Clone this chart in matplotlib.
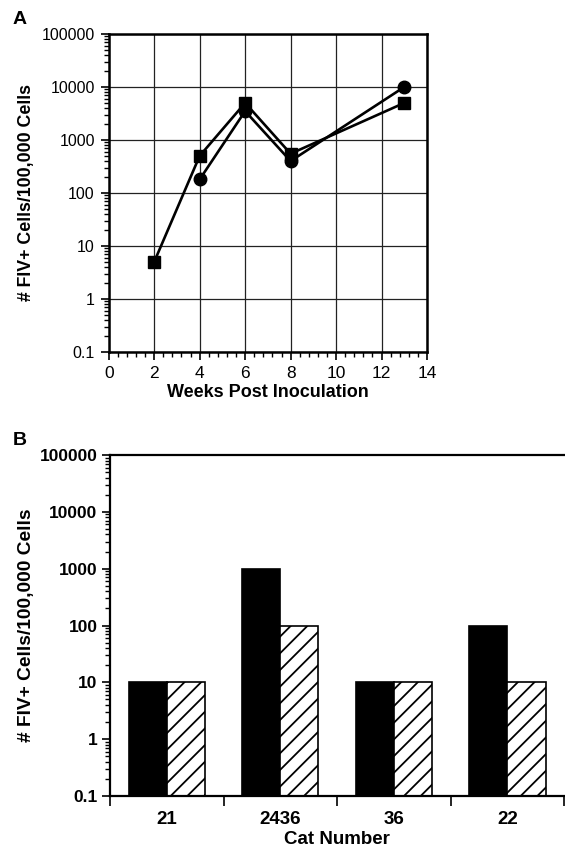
import matplotlib
matplotlib.use("Agg")
import matplotlib.pyplot as plt
from matplotlib.ticker import LogLocator, FixedLocator, MultipleLocator, NullFormatter, FixedFormatter
import numpy as np

plt.rcParams['font.family'] = ['Liberation Sans', 'DejaVu Sans']
plt.rcParams['hatch.linewidth'] = 1.3

# Panel A data
weeks_sq = [2, 4, 6, 8, 13]
vals_sq = [5, 500, 5000, 550, 5000]
weeks_ci = [4, 6, 8, 13]
vals_ci = [180, 3500, 400, 10000]

# Panel B data
cats = ['21', '2436', '36', '22']
vals_black = [10, 1000, 10, 100]
vals_hatch = [10, 100, 10, 10]

ytick_vals = [0.1, 1, 10, 100, 1000, 10000, 100000]
ytick_labels = ['0.1', '1', '10', '100', '1000', '10000', '100000']

fig = plt.figure(figsize=(5.65, 8.51), dpi=100)

# ---------- Panel A ----------
axA = fig.add_axes([0.1924, 0.5864, 0.5634, 0.3737])
axA.plot(weeks_sq, vals_sq, color='black', lw=1.9, marker='s', ms=9, zorder=3, clip_on=False)
axA.plot(weeks_ci, vals_ci, color='black', lw=1.9, marker='o', ms=9, zorder=3, clip_on=False)
axA.set_yscale('log')
axA.set_ylim(0.1, 100000)
axA.set_xlim(0, 14)
axA.set_xticks(range(0, 15, 2))
axA.xaxis.set_minor_locator(MultipleLocator(0.4))
axA.yaxis.set_major_locator(FixedLocator(ytick_vals))
axA.yaxis.set_major_formatter(FixedFormatter(ytick_labels))
axA.yaxis.set_minor_locator(LogLocator(base=10, subs=np.arange(2, 10), numticks=20))
axA.yaxis.set_minor_formatter(NullFormatter())
axA.grid(True, which='major', color='#222222', lw=0.9)
for s in axA.spines.values():
    s.set_linewidth(1.8)
axA.tick_params(which='major', direction='out', length=6, width=1.2, pad=4)
axA.tick_params(axis='y', which='major', labelsize=11.5)
axA.tick_params(axis='x', which='major', labelsize=12.5)
axA.tick_params(which='minor', direction='out', length=3.5, width=1.0)
axA.set_xlabel('Weeks Post Inoculation', fontsize=13, fontweight='bold', labelpad=2)
axA.set_ylabel('# FIV+ Cells/100,000 Cells', fontsize=12.8, fontweight='bold', labelpad=5)
fig.text(0.022, 0.977, 'A', fontsize=14, fontweight='bold', va='center', ha='left')

# ---------- Panel B ----------
axB = fig.add_axes([0.1947, 0.0646, 0.8040, 0.4007])
x = np.arange(len(cats))
w = 0.335
axB.bar(x - w / 2, vals_black, width=w, color='black', edgecolor='black', lw=1.2, zorder=2)
axB.bar(x + w / 2, vals_hatch, width=w, color='white', edgecolor='black', hatch='//', lw=1.2, zorder=2)
axB.set_yscale('log')
axB.set_ylim(0.1, 100000)
axB.set_xlim(-0.5, len(cats) - 0.5)
axB.set_xticks(x)
axB.set_xticklabels(cats)
axB.xaxis.set_minor_locator(FixedLocator(np.arange(len(cats) + 1) - 0.5))
axB.yaxis.set_major_locator(FixedLocator(ytick_vals))
axB.yaxis.set_major_formatter(FixedFormatter(ytick_labels))
axB.yaxis.set_minor_locator(LogLocator(base=10, subs=np.arange(2, 10), numticks=20))
axB.yaxis.set_minor_formatter(NullFormatter())
axB.spines['right'].set_visible(False)
for s in ['left', 'bottom', 'top']:
    axB.spines[s].set_linewidth(1.6)
axB.tick_params(axis='x', which='major', length=0, labelsize=13.5, pad=11)
axB.tick_params(axis='x', which='minor', direction='out', length=7, width=1.2)
axB.tick_params(axis='y', which='major', direction='out', length=6, width=1.2, labelsize=12.5, pad=3)
axB.tick_params(axis='y', which='minor', direction='out', length=3.5, width=1.0)
for lab in axB.get_xticklabels() + axB.get_yticklabels():
    lab.set_fontweight('bold')
axB.set_xlabel('Cat Number', fontsize=13.5, fontweight='bold', labelpad=2)
axB.set_ylabel('# FIV+ Cells/100,000 Cells', fontsize=13.8, fontweight='bold', labelpad=3)
fig.text(0.022, 0.482, 'B', fontsize=14, fontweight='bold', va='center', ha='left')

fig.savefig('out.png', dpi=100)
